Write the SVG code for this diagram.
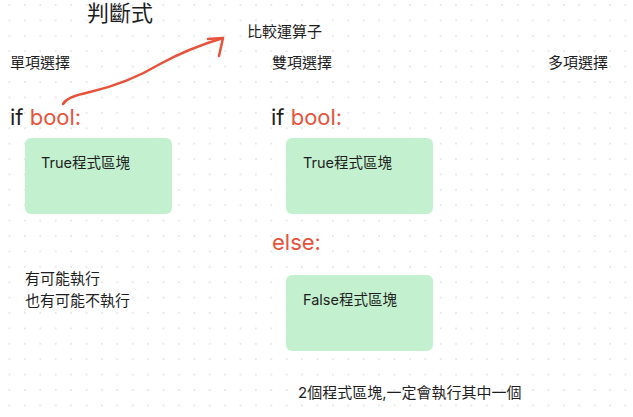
<svg xmlns="http://www.w3.org/2000/svg" width="633" height="417" viewBox="0 0 633 417">
<defs>
<pattern id="grid" x="1.8" y="-2.7" width="15.4" height="15.4" patternUnits="userSpaceOnUse">
<circle cx="7.7" cy="7.7" r="1" fill="#e2e2e2"/>
</pattern>
<style>
.t{font-family:Inter,"Noto Sans CJK TC",sans-serif;fill:#1e1e1e;}
.s{font-size:15px;}
.big{font-size:22px;}
.red{fill:#e8523a;}
.box{fill:#c3f1cf;}
.arrow{fill:none;stroke:#e8523a;stroke-width:2.5;stroke-linecap:round;stroke-linejoin:round;}
</style>
</defs>
<rect width="633" height="417" fill="#ffffff"/>
<rect width="633" height="417" fill="url(#grid)"/>

<g id="title"><text class="t" x="87" y="21" style="font-size:22px">判斷式</text></g>
<g id="compare"><text class="t s" x="247" y="37">比較運算子</text></g>
<g id="single-label"><text class="t s" x="10" y="68">單項選擇</text></g>
<g id="double-label"><text class="t s" x="272" y="68">雙項選擇</text></g>
<g id="multi-label"><text class="t s" x="548" y="68">多項選擇</text></g>

<g id="if1"><text class="t big" x="10" y="125">if <tspan class="red">bool:</tspan></text></g>
<g id="if2"><text class="t big" x="271" y="125">if <tspan class="red">bool:</tspan></text></g>
<g id="else"><text class="t big red" x="272" y="250">else:</text></g>

<g id="box-true1">
<rect class="box" x="25" y="138" width="147" height="76" rx="6"/>
<text class="t" x="41" y="168" style="font-size:14.5px">True程式區塊</text>
</g>
<g id="box-true2">
<rect class="box" x="286" y="138" width="147" height="76" rx="6"/>
<text class="t" x="303" y="168" style="font-size:14.5px">True程式區塊</text>
</g>
<g id="box-false">
<rect class="box" x="286" y="275" width="147" height="76" rx="6"/>
<text class="t" x="303" y="305" style="font-size:14.5px">False程式區塊</text>
</g>

<g id="note1">
<text class="t s" x="25" y="284">有可能執行</text>
<text class="t s" x="25" y="306">也有可能不執行</text>
</g>
<g id="note2"><text class="t s" x="298" y="398">2個程式區塊,一定會執行其中一個</text></g>

<g id="connectors">
<path class="arrow" d="M63,104 C66,99 72,96 90,92 C120,85 140,76 160,64 C180,53 200,45 223,38"/>
<path class="arrow" d="M208,39 L223,38 L219,56"/>
</g>
</svg>
